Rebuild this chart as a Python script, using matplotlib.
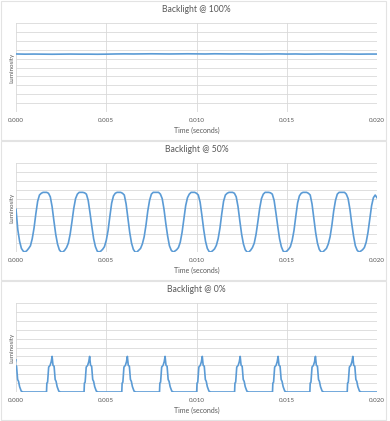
import numpy as np
import matplotlib.pyplot as plt
from matplotlib.patches import Rectangle

plt.rcParams['font.family'] = ['Lato', 'DejaVu Sans']

# --- data read off the captures ---
# backlight 100%: flat trace, sampled every 0.5 ms
lum_100 = [6.52, 6.50, 6.51, 6.50, 6.49, 6.50, 6.51, 6.50, 6.50, 6.49,
           6.50, 6.52, 6.53, 6.52, 6.53, 6.54, 6.53, 6.52, 6.53, 6.54,
           6.53, 6.52, 6.54, 6.53, 6.52, 6.53, 6.52, 6.51, 6.52, 6.53,
           6.51, 6.52, 6.50, 6.51, 6.52, 6.51, 6.52, 6.51, 6.50, 6.51, 6.51]

# backlight 50%: sampled every 0.1 ms
lum_50 = [4.8, 2.5, 1.2, 0.4, 0.1, 0.0, 0.15, 0.4, 0.7, 1.5,
          2.7, 4.3, 5.7, 6.4, 6.6, 6.7, 6.7, 6.7, 6.6, 6.2,
          5.1, 3.5, 2.0, 0.9, 0.25, 0.0, 0.0, 0.2, 0.5, 1.0,
          2.0, 3.4, 4.9, 6.0, 6.5, 6.7, 6.7, 6.7, 6.65, 6.5,
          5.8, 4.4, 2.9, 1.5, 0.6, 0.1, 0.0, 0.1, 0.3, 0.6,
          1.3, 2.4, 4.0, 5.5, 6.3, 6.6, 6.7, 6.7, 6.7, 6.6,
          6.4, 5.4, 3.8, 2.2, 1.0, 0.3, 0.0, 0.0, 0.2, 0.4,
          0.9, 1.7, 3.0, 4.6, 5.8, 6.5, 6.7, 6.7, 6.7, 6.7,
          6.5, 6.0, 4.8, 3.2, 1.8, 0.7, 0.2, 0.0, 0.1, 0.25,
          0.5, 1.1, 2.2, 3.7, 5.2, 6.1, 6.5, 6.7, 6.7, 6.7,
          6.6, 6.4, 5.6, 4.1, 2.5, 1.2, 0.4, 0.05, 0.0, 0.15,
          0.35, 0.75, 1.5, 2.7, 4.3, 5.7, 6.4, 6.6, 6.7, 6.7,
          6.7, 6.6, 6.2, 5.1, 3.5, 2.0, 0.9, 0.25, 0.0, 0.0,
          0.2, 0.5, 1.0, 2.0, 3.4, 4.9, 6.0, 6.5, 6.7, 6.7,
          6.7, 6.65, 6.5, 5.8, 4.4, 2.9, 1.5, 0.6, 0.1, 0.0,
          0.1, 0.3, 0.6, 1.3, 2.4, 4.0, 5.5, 6.3, 6.6, 6.7,
          6.7, 6.7, 6.6, 6.4, 5.4, 3.8, 2.2, 1.0, 0.3, 0.0,
          0.0, 0.2, 0.4, 0.9, 1.7, 3.0, 4.6, 5.8, 6.5, 6.7,
          6.7, 6.7, 6.7, 6.5, 6.0, 4.8, 3.2, 1.8, 0.7, 0.2,
          0.0, 0.1, 0.25, 0.5, 1.1, 2.2, 3.7, 5.2, 6.1, 6.4, 6.1]

# backlight 0%: one pulse shape plus the time of each pulse peak
pulse_offsets = [-0.00031, -0.00029, -0.00025, -0.00019, -0.00011, -0.00005, 0.0,
                 0.00005, 0.00011, 0.00017, 0.00022, 0.00028, 0.00037, 0.00046]
pulse_levels = [0.0, 1.0, 1.1, 2.8, 3.0, 3.4, 4.0,
                3.0, 2.9, 1.4, 1.2, 0.6, 0.1, 0.0]
pulse_peaks = [-0.00008, 0.00200, 0.00408, 0.00617, 0.00826,
               0.01032, 0.01242, 0.01452, 0.01659, 0.01866]

titles = ["Backlight @ 100%", "Backlight @ 50%", "Backlight @ 0%"]
x_ticks = [0.0, 0.005, 0.010, 0.015, 0.020]

t_100 = np.linspace(0, 0.02, len(lum_100))
t_50 = np.linspace(0, 0.02, len(lum_50))
t_0 = np.concatenate([[0.0]] + [p + np.array(pulse_offsets) for p in pulse_peaks] + [[0.02]])
lum_0 = np.concatenate([[3.6]] + [pulse_levels for p in pulse_peaks] + [[0.0]])

traces = [(t_100, lum_100), (t_50, lum_50), (t_0, lum_0)]

W, H = 390, 421
fig = plt.figure(figsize=(W / 100, H / 100), dpi=100)
line_col = "#5b9bd5"
grid_col = "#d9d9d9"
text_col = "#595959"

for i, (t, lum) in enumerate(traces):
    oy = 140 * i
    # panel frame
    fig.patches.append(Rectangle((1 / W, 1 - (oy + 140) / H), 385 / W, 139 / H,
                                 transform=fig.transFigure, fill=False,
                                 edgecolor="#e3e3e3", linewidth=0.8))
    left, right = 16, 377
    top, bottom = 23 + oy, 112 + oy
    ax = fig.add_axes([left / W, 1 - bottom / H, (right - left) / W, (bottom - top) / H])
    ax.plot(t, lum, color=line_col, linewidth=1.2)
    ax.set_xlim(0, 0.02)
    ax.set_ylim(0, 10)
    ax.set_xticks(x_ticks)
    ax.set_xticklabels([f"{v:.3f}" for v in x_ticks])
    ax.set_yticks(np.arange(0, 11, 1))
    ax.set_yticklabels([])
    ax.grid(True, color=grid_col, linewidth=0.6)
    ax.set_axisbelow(True)
    for s in ax.spines.values():
        s.set_visible(False)
    ax.tick_params(length=0, labelsize=4.5, labelcolor=text_col, pad=4)
    ax.set_xlabel("Time (seconds)", fontsize=5, color=text_col, labelpad=3)
    ax.set_ylabel("Luminosity", fontsize=4.5, color=text_col)
    ax.yaxis.set_label_coords(-0.005, 0.5)
    ax.set_title(titles[i], fontsize=6.2, color=text_col, pad=8)

plt.savefig("out.png", dpi=100)
